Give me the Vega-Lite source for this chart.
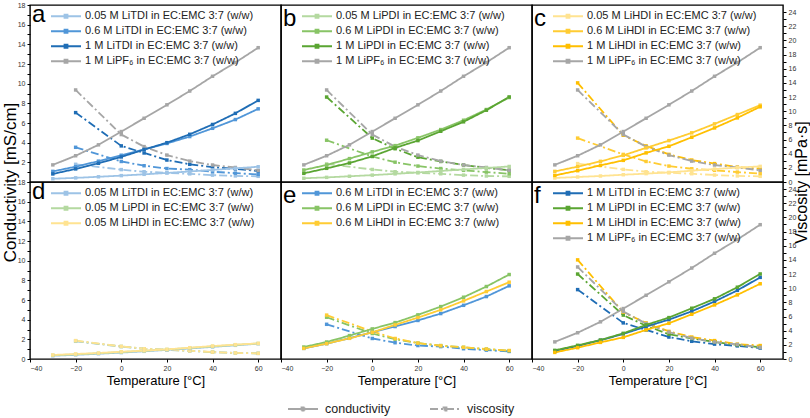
{
"$schema": "https://vega.github.io/schema/vega-lite/v6.json",
"padding": {"left": 0, "top": 0, "right": 0, "bottom": 0},
"background": "white",
"config": {
  "font": "'Liberation Sans', Arial, sans-serif",
  "view": {"stroke": "#000", "strokeWidth": 1.4},
  "axis": {"labelFont": "'Liberation Sans', sans-serif", "labelFontSize": 7, "labelColor": "#333", "tickColor": "#000", "tickSize": 3, "domain": false, "grid": false, "titleFont": "'Liberation Sans', sans-serif", "titleFontSize": 13, "titleFontWeight": "normal", "titleColor": "#000", "labelOverlap": false},
  "legend": {"labelFont": "'Liberation Sans', sans-serif", "labelFontSize": 11, "labelColor": "#222", "labelLimit": 400},
  "title": {"anchor": "start", "frame": "group", "orient": "top", "offset": -26, "fontSize": 24, "fontWeight": "normal", "font": "'Liberation Sans', sans-serif", "color": "#000", "dx": 2}
},
"datasets": {
"cond": [
{"s":"0.05 M LiTDI in EC:EMC 3:7 (w/w)","t":-30,"v":0.33},{"s":"0.05 M LiTDI in EC:EMC 3:7 (w/w)","t":-20,"v":0.42},{"s":"0.05 M LiTDI in EC:EMC 3:7 (w/w)","t":-10,"v":0.53},{"s":"0.05 M LiTDI in EC:EMC 3:7 (w/w)","t":0,"v":0.65},{"s":"0.05 M LiTDI in EC:EMC 3:7 (w/w)","t":10,"v":0.78},{"s":"0.05 M LiTDI in EC:EMC 3:7 (w/w)","t":20,"v":0.92},{"s":"0.05 M LiTDI in EC:EMC 3:7 (w/w)","t":30,"v":1.07},{"s":"0.05 M LiTDI in EC:EMC 3:7 (w/w)","t":40,"v":1.23},{"s":"0.05 M LiTDI in EC:EMC 3:7 (w/w)","t":50,"v":1.39},{"s":"0.05 M LiTDI in EC:EMC 3:7 (w/w)","t":60,"v":1.55},
{"s":"0.05 M LiPDI in EC:EMC 3:7 (w/w)","t":-30,"v":0.38},{"s":"0.05 M LiPDI in EC:EMC 3:7 (w/w)","t":-20,"v":0.47},{"s":"0.05 M LiPDI in EC:EMC 3:7 (w/w)","t":-10,"v":0.58},{"s":"0.05 M LiPDI in EC:EMC 3:7 (w/w)","t":0,"v":0.70},{"s":"0.05 M LiPDI in EC:EMC 3:7 (w/w)","t":10,"v":0.83},{"s":"0.05 M LiPDI in EC:EMC 3:7 (w/w)","t":20,"v":0.97},{"s":"0.05 M LiPDI in EC:EMC 3:7 (w/w)","t":30,"v":1.12},{"s":"0.05 M LiPDI in EC:EMC 3:7 (w/w)","t":40,"v":1.28},{"s":"0.05 M LiPDI in EC:EMC 3:7 (w/w)","t":50,"v":1.43},{"s":"0.05 M LiPDI in EC:EMC 3:7 (w/w)","t":60,"v":1.58},
{"s":"0.05 M LiHDI in EC:EMC 3:7 (w/w)","t":-30,"v":0.41},{"s":"0.05 M LiHDI in EC:EMC 3:7 (w/w)","t":-20,"v":0.51},{"s":"0.05 M LiHDI in EC:EMC 3:7 (w/w)","t":-10,"v":0.61},{"s":"0.05 M LiHDI in EC:EMC 3:7 (w/w)","t":0,"v":0.74},{"s":"0.05 M LiHDI in EC:EMC 3:7 (w/w)","t":10,"v":0.85},{"s":"0.05 M LiHDI in EC:EMC 3:7 (w/w)","t":20,"v":0.98},{"s":"0.05 M LiHDI in EC:EMC 3:7 (w/w)","t":30,"v":1.15},{"s":"0.05 M LiHDI in EC:EMC 3:7 (w/w)","t":40,"v":1.32},{"s":"0.05 M LiHDI in EC:EMC 3:7 (w/w)","t":50,"v":1.46},{"s":"0.05 M LiHDI in EC:EMC 3:7 (w/w)","t":60,"v":1.59},
{"s":"0.6 M LiTDI in EC:EMC 3:7 (w/w)","t":-30,"v":1.08},{"s":"0.6 M LiTDI in EC:EMC 3:7 (w/w)","t":-20,"v":1.56},{"s":"0.6 M LiTDI in EC:EMC 3:7 (w/w)","t":-10,"v":2.12},{"s":"0.6 M LiTDI in EC:EMC 3:7 (w/w)","t":0,"v":2.72},{"s":"0.6 M LiTDI in EC:EMC 3:7 (w/w)","t":10,"v":3.3},{"s":"0.6 M LiTDI in EC:EMC 3:7 (w/w)","t":20,"v":3.92},{"s":"0.6 M LiTDI in EC:EMC 3:7 (w/w)","t":30,"v":4.62},{"s":"0.6 M LiTDI in EC:EMC 3:7 (w/w)","t":40,"v":5.46},{"s":"0.6 M LiTDI in EC:EMC 3:7 (w/w)","t":50,"v":6.35},{"s":"0.6 M LiTDI in EC:EMC 3:7 (w/w)","t":60,"v":7.44},
{"s":"0.6 M LiPDI in EC:EMC 3:7 (w/w)","t":-30,"v":1.22},{"s":"0.6 M LiPDI in EC:EMC 3:7 (w/w)","t":-20,"v":1.73},{"s":"0.6 M LiPDI in EC:EMC 3:7 (w/w)","t":-10,"v":2.38},{"s":"0.6 M LiPDI in EC:EMC 3:7 (w/w)","t":0,"v":3.06},{"s":"0.6 M LiPDI in EC:EMC 3:7 (w/w)","t":10,"v":3.7},{"s":"0.6 M LiPDI in EC:EMC 3:7 (w/w)","t":20,"v":4.49},{"s":"0.6 M LiPDI in EC:EMC 3:7 (w/w)","t":30,"v":5.33},{"s":"0.6 M LiPDI in EC:EMC 3:7 (w/w)","t":40,"v":6.28},{"s":"0.6 M LiPDI in EC:EMC 3:7 (w/w)","t":50,"v":7.37},{"s":"0.6 M LiPDI in EC:EMC 3:7 (w/w)","t":60,"v":8.59},
{"s":"0.6 M LiHDI in EC:EMC 3:7 (w/w)","t":-30,"v":1.08},{"s":"0.6 M LiHDI in EC:EMC 3:7 (w/w)","t":-20,"v":1.56},{"s":"0.6 M LiHDI in EC:EMC 3:7 (w/w)","t":-10,"v":2.1},{"s":"0.6 M LiHDI in EC:EMC 3:7 (w/w)","t":0,"v":2.71},{"s":"0.6 M LiHDI in EC:EMC 3:7 (w/w)","t":10,"v":3.47},{"s":"0.6 M LiHDI in EC:EMC 3:7 (w/w)","t":20,"v":4.21},{"s":"0.6 M LiHDI in EC:EMC 3:7 (w/w)","t":30,"v":5.0},{"s":"0.6 M LiHDI in EC:EMC 3:7 (w/w)","t":40,"v":5.91},{"s":"0.6 M LiHDI in EC:EMC 3:7 (w/w)","t":50,"v":6.86},{"s":"0.6 M LiHDI in EC:EMC 3:7 (w/w)","t":60,"v":7.81},
{"s":"1 M LiTDI in EC:EMC 3:7 (w/w)","t":-30,"v":0.82},{"s":"1 M LiTDI in EC:EMC 3:7 (w/w)","t":-20,"v":1.33},{"s":"1 M LiTDI in EC:EMC 3:7 (w/w)","t":-10,"v":1.9},{"s":"1 M LiTDI in EC:EMC 3:7 (w/w)","t":0,"v":2.55},{"s":"1 M LiTDI in EC:EMC 3:7 (w/w)","t":10,"v":3.3},{"s":"1 M LiTDI in EC:EMC 3:7 (w/w)","t":20,"v":4.0},{"s":"1 M LiTDI in EC:EMC 3:7 (w/w)","t":30,"v":4.85},{"s":"1 M LiTDI in EC:EMC 3:7 (w/w)","t":40,"v":5.85},{"s":"1 M LiTDI in EC:EMC 3:7 (w/w)","t":50,"v":6.98},{"s":"1 M LiTDI in EC:EMC 3:7 (w/w)","t":60,"v":8.3},
{"s":"1 M LiPDI in EC:EMC 3:7 (w/w)","t":-30,"v":0.88},{"s":"1 M LiPDI in EC:EMC 3:7 (w/w)","t":-20,"v":1.39},{"s":"1 M LiPDI in EC:EMC 3:7 (w/w)","t":-10,"v":1.93},{"s":"1 M LiPDI in EC:EMC 3:7 (w/w)","t":0,"v":2.61},{"s":"1 M LiPDI in EC:EMC 3:7 (w/w)","t":10,"v":3.47},{"s":"1 M LiPDI in EC:EMC 3:7 (w/w)","t":20,"v":4.21},{"s":"1 M LiPDI in EC:EMC 3:7 (w/w)","t":30,"v":5.16},{"s":"1 M LiPDI in EC:EMC 3:7 (w/w)","t":40,"v":6.12},{"s":"1 M LiPDI in EC:EMC 3:7 (w/w)","t":50,"v":7.3},{"s":"1 M LiPDI in EC:EMC 3:7 (w/w)","t":60,"v":8.65},
{"s":"1 M LiHDI in EC:EMC 3:7 (w/w)","t":-30,"v":0.67},{"s":"1 M LiHDI in EC:EMC 3:7 (w/w)","t":-20,"v":1.15},{"s":"1 M LiHDI in EC:EMC 3:7 (w/w)","t":-10,"v":1.69},{"s":"1 M LiHDI in EC:EMC 3:7 (w/w)","t":0,"v":2.2},{"s":"1 M LiHDI in EC:EMC 3:7 (w/w)","t":10,"v":2.96},{"s":"1 M LiHDI in EC:EMC 3:7 (w/w)","t":20,"v":3.63},{"s":"1 M LiHDI in EC:EMC 3:7 (w/w)","t":30,"v":4.55},{"s":"1 M LiHDI in EC:EMC 3:7 (w/w)","t":40,"v":5.5},{"s":"1 M LiHDI in EC:EMC 3:7 (w/w)","t":50,"v":6.52},{"s":"1 M LiHDI in EC:EMC 3:7 (w/w)","t":60,"v":7.65},
{"s":"1 M LiPF₆ in EC:EMC 3:7 (w/w)","t":-30,"v":1.74},{"s":"1 M LiPF₆ in EC:EMC 3:7 (w/w)","t":-20,"v":2.67},{"s":"1 M LiPF₆ in EC:EMC 3:7 (w/w)","t":-10,"v":3.78},{"s":"1 M LiPF₆ in EC:EMC 3:7 (w/w)","t":0,"v":5.13},{"s":"1 M LiPF₆ in EC:EMC 3:7 (w/w)","t":10,"v":6.48},{"s":"1 M LiPF₆ in EC:EMC 3:7 (w/w)","t":20,"v":7.85},{"s":"1 M LiPF₆ in EC:EMC 3:7 (w/w)","t":30,"v":9.25},{"s":"1 M LiPF₆ in EC:EMC 3:7 (w/w)","t":40,"v":10.75},{"s":"1 M LiPF₆ in EC:EMC 3:7 (w/w)","t":50,"v":12.15},{"s":"1 M LiPF₆ in EC:EMC 3:7 (w/w)","t":60,"v":13.66}
],
"visc": [
{"s":"0.05 M LiTDI in EC:EMC 3:7 (w/w)","t":-20,"v":2.5},{"s":"0.05 M LiTDI in EC:EMC 3:7 (w/w)","t":0,"v":1.75},{"s":"0.05 M LiTDI in EC:EMC 3:7 (w/w)","t":10,"v":1.45},{"s":"0.05 M LiTDI in EC:EMC 3:7 (w/w)","t":20,"v":1.3},{"s":"0.05 M LiTDI in EC:EMC 3:7 (w/w)","t":30,"v":1.15},{"s":"0.05 M LiTDI in EC:EMC 3:7 (w/w)","t":40,"v":0.97},{"s":"0.05 M LiTDI in EC:EMC 3:7 (w/w)","t":50,"v":0.86},{"s":"0.05 M LiTDI in EC:EMC 3:7 (w/w)","t":60,"v":0.8},
{"s":"0.05 M LiPDI in EC:EMC 3:7 (w/w)","t":-20,"v":2.55},{"s":"0.05 M LiPDI in EC:EMC 3:7 (w/w)","t":0,"v":1.77},{"s":"0.05 M LiPDI in EC:EMC 3:7 (w/w)","t":10,"v":1.45},{"s":"0.05 M LiPDI in EC:EMC 3:7 (w/w)","t":20,"v":1.3},{"s":"0.05 M LiPDI in EC:EMC 3:7 (w/w)","t":30,"v":1.16},{"s":"0.05 M LiPDI in EC:EMC 3:7 (w/w)","t":40,"v":0.97},{"s":"0.05 M LiPDI in EC:EMC 3:7 (w/w)","t":50,"v":0.85},{"s":"0.05 M LiPDI in EC:EMC 3:7 (w/w)","t":60,"v":0.8},
{"s":"0.05 M LiHDI in EC:EMC 3:7 (w/w)","t":-20,"v":2.6},{"s":"0.05 M LiHDI in EC:EMC 3:7 (w/w)","t":0,"v":1.78},{"s":"0.05 M LiHDI in EC:EMC 3:7 (w/w)","t":10,"v":1.45},{"s":"0.05 M LiHDI in EC:EMC 3:7 (w/w)","t":20,"v":1.3},{"s":"0.05 M LiHDI in EC:EMC 3:7 (w/w)","t":30,"v":1.17},{"s":"0.05 M LiHDI in EC:EMC 3:7 (w/w)","t":40,"v":0.98},{"s":"0.05 M LiHDI in EC:EMC 3:7 (w/w)","t":50,"v":0.86},{"s":"0.05 M LiHDI in EC:EMC 3:7 (w/w)","t":60,"v":0.8},
{"s":"0.6 M LiTDI in EC:EMC 3:7 (w/w)","t":-20,"v":4.9},{"s":"0.6 M LiTDI in EC:EMC 3:7 (w/w)","t":0,"v":2.9},{"s":"0.6 M LiTDI in EC:EMC 3:7 (w/w)","t":10,"v":2.3},{"s":"0.6 M LiTDI in EC:EMC 3:7 (w/w)","t":20,"v":1.9},{"s":"0.6 M LiTDI in EC:EMC 3:7 (w/w)","t":30,"v":1.75},{"s":"0.6 M LiTDI in EC:EMC 3:7 (w/w)","t":40,"v":1.45},{"s":"0.6 M LiTDI in EC:EMC 3:7 (w/w)","t":50,"v":1.25},{"s":"0.6 M LiTDI in EC:EMC 3:7 (w/w)","t":60,"v":1.07},
{"s":"0.6 M LiPDI in EC:EMC 3:7 (w/w)","t":-20,"v":5.9},{"s":"0.6 M LiPDI in EC:EMC 3:7 (w/w)","t":0,"v":3.6},{"s":"0.6 M LiPDI in EC:EMC 3:7 (w/w)","t":10,"v":2.8},{"s":"0.6 M LiPDI in EC:EMC 3:7 (w/w)","t":20,"v":2.25},{"s":"0.6 M LiPDI in EC:EMC 3:7 (w/w)","t":30,"v":1.9},{"s":"0.6 M LiPDI in EC:EMC 3:7 (w/w)","t":40,"v":1.65},{"s":"0.6 M LiPDI in EC:EMC 3:7 (w/w)","t":50,"v":1.4},{"s":"0.6 M LiPDI in EC:EMC 3:7 (w/w)","t":60,"v":1.17},
{"s":"0.6 M LiHDI in EC:EMC 3:7 (w/w)","t":-20,"v":6.2},{"s":"0.6 M LiHDI in EC:EMC 3:7 (w/w)","t":0,"v":3.9},{"s":"0.6 M LiHDI in EC:EMC 3:7 (w/w)","t":10,"v":2.9},{"s":"0.6 M LiHDI in EC:EMC 3:7 (w/w)","t":20,"v":2.25},{"s":"0.6 M LiHDI in EC:EMC 3:7 (w/w)","t":30,"v":1.87},{"s":"0.6 M LiHDI in EC:EMC 3:7 (w/w)","t":40,"v":1.65},{"s":"0.6 M LiHDI in EC:EMC 3:7 (w/w)","t":50,"v":1.4},{"s":"0.6 M LiHDI in EC:EMC 3:7 (w/w)","t":60,"v":1.2},
{"s":"1 M LiTDI in EC:EMC 3:7 (w/w)","t":-20,"v":9.8},{"s":"1 M LiTDI in EC:EMC 3:7 (w/w)","t":0,"v":5.1},{"s":"1 M LiTDI in EC:EMC 3:7 (w/w)","t":10,"v":4.1},{"s":"1 M LiTDI in EC:EMC 3:7 (w/w)","t":20,"v":3.1},{"s":"1 M LiTDI in EC:EMC 3:7 (w/w)","t":30,"v":2.5},{"s":"1 M LiTDI in EC:EMC 3:7 (w/w)","t":40,"v":2.1},{"s":"1 M LiTDI in EC:EMC 3:7 (w/w)","t":50,"v":1.85},{"s":"1 M LiTDI in EC:EMC 3:7 (w/w)","t":60,"v":1.55},
{"s":"1 M LiPDI in EC:EMC 3:7 (w/w)","t":-20,"v":12.0},{"s":"1 M LiPDI in EC:EMC 3:7 (w/w)","t":0,"v":6.2},{"s":"1 M LiPDI in EC:EMC 3:7 (w/w)","t":10,"v":4.7},{"s":"1 M LiPDI in EC:EMC 3:7 (w/w)","t":20,"v":3.5},{"s":"1 M LiPDI in EC:EMC 3:7 (w/w)","t":30,"v":2.9},{"s":"1 M LiPDI in EC:EMC 3:7 (w/w)","t":40,"v":2.4},{"s":"1 M LiPDI in EC:EMC 3:7 (w/w)","t":50,"v":2.0},{"s":"1 M LiPDI in EC:EMC 3:7 (w/w)","t":60,"v":1.65},
{"s":"1 M LiHDI in EC:EMC 3:7 (w/w)","t":-20,"v":14.0},{"s":"1 M LiHDI in EC:EMC 3:7 (w/w)","t":0,"v":6.6},{"s":"1 M LiHDI in EC:EMC 3:7 (w/w)","t":10,"v":5.1},{"s":"1 M LiHDI in EC:EMC 3:7 (w/w)","t":20,"v":3.9},{"s":"1 M LiHDI in EC:EMC 3:7 (w/w)","t":30,"v":3.1},{"s":"1 M LiHDI in EC:EMC 3:7 (w/w)","t":40,"v":2.6},{"s":"1 M LiHDI in EC:EMC 3:7 (w/w)","t":50,"v":2.1},{"s":"1 M LiHDI in EC:EMC 3:7 (w/w)","t":60,"v":1.9},
{"s":"1 M LiPF₆ in EC:EMC 3:7 (w/w)","t":-20,"v":13.0},{"s":"1 M LiPF₆ in EC:EMC 3:7 (w/w)","t":0,"v":6.7},{"s":"1 M LiPF₆ in EC:EMC 3:7 (w/w)","t":10,"v":5.0},{"s":"1 M LiPF₆ in EC:EMC 3:7 (w/w)","t":20,"v":3.8},{"s":"1 M LiPF₆ in EC:EMC 3:7 (w/w)","t":30,"v":2.95},{"s":"1 M LiPF₆ in EC:EMC 3:7 (w/w)","t":40,"v":2.4},{"s":"1 M LiPF₆ in EC:EMC 3:7 (w/w)","t":50,"v":2.05},{"s":"1 M LiPF₆ in EC:EMC 3:7 (w/w)","t":60,"v":1.65}
]
},
"columns": 3,
"spacing": 0,
"bounds": "flush",
"resolve": {"scale": {"color": "independent", "strokeDash": "shared"}, "legend": {"color": "independent", "strokeDash": "shared"}},
"concat": [
 {"width": 251, "height": 177, "title": {"text": "a"},
  "resolve": {"scale": {"y": "independent"}},
  "layer": [
   {"data": {"name": "visc"}, "transform": [{"filter": {"field": "s", "oneOf": ["0.05 M LiTDI in EC:EMC 3:7 (w/w)","0.6 M LiTDI in EC:EMC 3:7 (w/w)","1 M LiTDI in EC:EMC 3:7 (w/w)","1 M LiPF₆ in EC:EMC 3:7 (w/w)"]}}],
    "mark": {"type": "line", "strokeWidth": 1.8, "point": {"shape": "square", "size": 12, "filled": true}},
    "encoding": {
     "x": {"field": "t", "type": "quantitative", "scale": {"domain": [-40, 70], "nice": false, "zero": false}, "axis": null},
     "y": {"field": "v", "type": "quantitative", "scale": {"domain": [0, 25], "nice": false}, "axis": null},
     "color": {"field": "s", "type": "nominal", "sort": null, "scale": {"domain": ["0.05 M LiTDI in EC:EMC 3:7 (w/w)","0.6 M LiTDI in EC:EMC 3:7 (w/w)","1 M LiTDI in EC:EMC 3:7 (w/w)","1 M LiPF₆ in EC:EMC 3:7 (w/w)"], "range": ["#9dc3e6","#5096d8","#1f6db5","#a6a6a6"]},
      "legend": {"orient": "none", "legendX": 20, "legendY": 4, "title": null, "symbolType": "M-1,0L1,0M-0.1,-0.1L0.1,-0.1L0.1,0.1L-0.1,0.1Z", "symbolSize": 900, "symbolStrokeWidth": 1.8, "clipHeight": 14.5, "labelOffset": 3, "padding": 0, "rowPadding": 0}},
     "strokeDash": {"datum": "viscosity", "scale": {"domain": ["conductivity", "viscosity"], "range": [[1, 0], [8, 3, 2, 3]]},
      "legend": {"orient": "none", "legendX": 257, "legendY": 397, "direction": "horizontal", "title": null, "symbolType": "M-1,0L1,0M-0.1,-0.1L0.1,-0.1L0.1,0.1L-0.1,0.1Z", "symbolSize": 900, "symbolStrokeWidth": 1.8, "symbolStrokeColor": "#a6a6a6", "symbolFillColor": "#a6a6a6", "clipHeight": 14, "labelOffset": 6, "columnPadding": 38, "padding": 0, "labelFontSize": 12.5,
       "encode": {"symbols": {"update": {"stroke": {"value": "#a6a6a6"}, "fill": {"value": "#a6a6a6"}, "strokeWidth": {"value": 1.8}, "opacity": {"value": 1}}}}}}
    }},
   {"data": {"name": "cond"}, "transform": [{"filter": {"field": "s", "oneOf": ["0.05 M LiTDI in EC:EMC 3:7 (w/w)","0.6 M LiTDI in EC:EMC 3:7 (w/w)","1 M LiTDI in EC:EMC 3:7 (w/w)","1 M LiPF₆ in EC:EMC 3:7 (w/w)"]}}],
    "mark": {"type": "line", "strokeWidth": 1.8, "point": {"shape": "square", "size": 12, "filled": true}},
    "encoding": {
     "x": {"field": "t", "type": "quantitative"},
     "y": {"field": "v", "type": "quantitative", "scale": {"domain": [0, 18], "nice": false},
      "axis": {"orient": "left", "values": [0,1,2,3,4,5,6,7,8,9,10,11,12,13,14,15,16,17,18], "labelExpr": "datum.value % 2 === 0 && datum.value > 0 ? datum.label : ''", "title": "Conductivity [mS/cm]", "titleFontSize": 17, "titleX": -20, "titleY": 177, "titleAngle": 270, "titleAlign": "center", "titleBaseline": "middle"}},
     "color": {"field": "s", "type": "nominal", "sort": null},
     "strokeDash": {"datum": "conductivity"}
    }}
  ]},
 {"width": 251, "height": 177, "title": {"text": "b"},
  "resolve": {"scale": {"y": "independent"}},
  "layer": [
   {"data": {"name": "visc"}, "transform": [{"filter": {"field": "s", "oneOf": ["0.05 M LiPDI in EC:EMC 3:7 (w/w)","0.6 M LiPDI in EC:EMC 3:7 (w/w)","1 M LiPDI in EC:EMC 3:7 (w/w)","1 M LiPF₆ in EC:EMC 3:7 (w/w)"]}}],
    "mark": {"type": "line", "strokeWidth": 1.8, "point": {"shape": "square", "size": 12, "filled": true}},
    "encoding": {
     "x": {"field": "t", "type": "quantitative", "scale": {"domain": [-40, 70], "nice": false, "zero": false}, "axis": null},
     "y": {"field": "v", "type": "quantitative", "scale": {"domain": [0, 25], "nice": false}, "axis": null},
     "color": {"field": "s", "type": "nominal", "sort": null, "scale": {"domain": ["0.05 M LiPDI in EC:EMC 3:7 (w/w)","0.6 M LiPDI in EC:EMC 3:7 (w/w)","1 M LiPDI in EC:EMC 3:7 (w/w)","1 M LiPF₆ in EC:EMC 3:7 (w/w)"], "range": ["#b4d9a0","#88c466","#5aa532","#a6a6a6"]},
      "legend": {"orient": "none", "legendX": 20, "legendY": 4, "title": null, "symbolType": "M-1,0L1,0M-0.1,-0.1L0.1,-0.1L0.1,0.1L-0.1,0.1Z", "symbolSize": 900, "symbolStrokeWidth": 1.8, "clipHeight": 14.5, "labelOffset": 3, "padding": 0, "rowPadding": 0}},
     "strokeDash": {"datum": "viscosity"}
    }},
   {"data": {"name": "cond"}, "transform": [{"filter": {"field": "s", "oneOf": ["0.05 M LiPDI in EC:EMC 3:7 (w/w)","0.6 M LiPDI in EC:EMC 3:7 (w/w)","1 M LiPDI in EC:EMC 3:7 (w/w)","1 M LiPF₆ in EC:EMC 3:7 (w/w)"]}}],
    "mark": {"type": "line", "strokeWidth": 1.8, "point": {"shape": "square", "size": 12, "filled": true}},
    "encoding": {
     "x": {"field": "t", "type": "quantitative"},
     "y": {"field": "v", "type": "quantitative", "scale": {"domain": [0, 18], "nice": false}, "axis": null},
     "color": {"field": "s", "type": "nominal", "sort": null},
     "strokeDash": {"datum": "conductivity"}
    }}
  ]},
 {"width": 251, "height": 177, "title": {"text": "c"},
  "resolve": {"scale": {"y": "independent"}},
  "layer": [
   {"data": {"name": "visc"}, "transform": [{"filter": {"field": "s", "oneOf": ["0.05 M LiHDI in EC:EMC 3:7 (w/w)","0.6 M LiHDI in EC:EMC 3:7 (w/w)","1 M LiHDI in EC:EMC 3:7 (w/w)","1 M LiPF₆ in EC:EMC 3:7 (w/w)"]}}],
    "mark": {"type": "line", "strokeWidth": 1.8, "point": {"shape": "square", "size": 12, "filled": true}},
    "encoding": {
     "x": {"field": "t", "type": "quantitative", "scale": {"domain": [-40, 70], "nice": false, "zero": false}, "axis": null},
     "y": {"field": "v", "type": "quantitative", "scale": {"domain": [0, 25], "nice": false},
      "axis": {"orient": "right", "values": [0,1,2,3,4,5,6,7,8,9,10,11,12,13,14,15,16,17,18,19,20,21,22,23,24], "labelExpr": "datum.value % 2 === 0 ? datum.label : ''", "title": "Viscosity [mPa·s]", "titleFontSize": 16, "titleX": 18, "titleY": 177, "titleAngle": 270, "titleAlign": "center", "titleBaseline": "middle"}},
     "color": {"field": "s", "type": "nominal", "sort": null, "scale": {"domain": ["0.05 M LiHDI in EC:EMC 3:7 (w/w)","0.6 M LiHDI in EC:EMC 3:7 (w/w)","1 M LiHDI in EC:EMC 3:7 (w/w)","1 M LiPF₆ in EC:EMC 3:7 (w/w)"], "range": ["#ffe391","#ffcc33","#ffbf00","#a6a6a6"]},
      "legend": {"orient": "none", "legendX": 20, "legendY": 4, "title": null, "symbolType": "M-1,0L1,0M-0.1,-0.1L0.1,-0.1L0.1,0.1L-0.1,0.1Z", "symbolSize": 900, "symbolStrokeWidth": 1.8, "clipHeight": 14.5, "labelOffset": 3, "padding": 0, "rowPadding": 0}},
     "strokeDash": {"datum": "viscosity"}
    }},
   {"data": {"name": "cond"}, "transform": [{"filter": {"field": "s", "oneOf": ["0.05 M LiHDI in EC:EMC 3:7 (w/w)","0.6 M LiHDI in EC:EMC 3:7 (w/w)","1 M LiHDI in EC:EMC 3:7 (w/w)","1 M LiPF₆ in EC:EMC 3:7 (w/w)"]}}],
    "mark": {"type": "line", "strokeWidth": 1.8, "point": {"shape": "square", "size": 12, "filled": true}},
    "encoding": {
     "x": {"field": "t", "type": "quantitative"},
     "y": {"field": "v", "type": "quantitative", "scale": {"domain": [0, 18], "nice": false}, "axis": null},
     "color": {"field": "s", "type": "nominal", "sort": null},
     "strokeDash": {"datum": "conductivity"}
    }}
  ]},
 {"width": 251, "height": 177, "title": {"text": "d"},
  "resolve": {"scale": {"y": "independent"}},
  "layer": [
   {"data": {"name": "visc"}, "transform": [{"filter": {"field": "s", "oneOf": ["0.05 M LiTDI in EC:EMC 3:7 (w/w)","0.05 M LiPDI in EC:EMC 3:7 (w/w)","0.05 M LiHDI in EC:EMC 3:7 (w/w)"]}}],
    "mark": {"type": "line", "strokeWidth": 1.8, "point": {"shape": "square", "size": 12, "filled": true}},
    "encoding": {
     "x": {"field": "t", "type": "quantitative", "scale": {"domain": [-40, 70], "nice": false, "zero": false},
      "axis": {"values": [-40,-30,-20,-10,0,10,20,30,40,50,60], "labelExpr": "datum.value % 20 === 0 ? datum.label : ''", "title": "Temperature [°C]", "titlePadding": 3, "labelPadding": 2}},
     "y": {"field": "v", "type": "quantitative", "scale": {"domain": [0, 25], "nice": false}, "axis": null},
     "color": {"field": "s", "type": "nominal", "sort": null, "scale": {"domain": ["0.05 M LiTDI in EC:EMC 3:7 (w/w)","0.05 M LiPDI in EC:EMC 3:7 (w/w)","0.05 M LiHDI in EC:EMC 3:7 (w/w)"], "range": ["#9dc3e6","#b4d9a0","#ffe391"]},
      "legend": {"orient": "none", "legendX": 20, "legendY": 4, "title": null, "symbolType": "M-1,0L1,0M-0.1,-0.1L0.1,-0.1L0.1,0.1L-0.1,0.1Z", "symbolSize": 900, "symbolStrokeWidth": 1.8, "clipHeight": 14.5, "labelOffset": 3, "padding": 0, "rowPadding": 0}},
     "strokeDash": {"datum": "viscosity"}
    }},
   {"data": {"name": "cond"}, "transform": [{"filter": {"field": "s", "oneOf": ["0.05 M LiTDI in EC:EMC 3:7 (w/w)","0.05 M LiPDI in EC:EMC 3:7 (w/w)","0.05 M LiHDI in EC:EMC 3:7 (w/w)"]}}],
    "mark": {"type": "line", "strokeWidth": 1.8, "point": {"shape": "square", "size": 12, "filled": true}},
    "encoding": {
     "x": {"field": "t", "type": "quantitative"},
     "y": {"field": "v", "type": "quantitative", "scale": {"domain": [0, 18], "nice": false},
      "axis": {"orient": "left", "values": [0,1,2,3,4,5,6,7,8,9,10,11,12,13,14,15,16,17,18], "labelExpr": "datum.value % 2 === 0 ? datum.label : ''", "title": null}},
     "color": {"field": "s", "type": "nominal", "sort": null},
     "strokeDash": {"datum": "conductivity"}
    }}
  ]},
 {"width": 251, "height": 177, "title": {"text": "e"},
  "resolve": {"scale": {"y": "independent"}},
  "layer": [
   {"data": {"name": "visc"}, "transform": [{"filter": {"field": "s", "oneOf": ["0.6 M LiTDI in EC:EMC 3:7 (w/w)","0.6 M LiPDI in EC:EMC 3:7 (w/w)","0.6 M LiHDI in EC:EMC 3:7 (w/w)"]}}],
    "mark": {"type": "line", "strokeWidth": 1.8, "point": {"shape": "square", "size": 12, "filled": true}},
    "encoding": {
     "x": {"field": "t", "type": "quantitative", "scale": {"domain": [-40, 70], "nice": false, "zero": false},
      "axis": {"values": [-40,-30,-20,-10,0,10,20,30,40,50,60], "labelExpr": "datum.value % 20 === 0 ? datum.label : ''", "title": "Temperature [°C]", "titlePadding": 3, "labelPadding": 2}},
     "y": {"field": "v", "type": "quantitative", "scale": {"domain": [0, 25], "nice": false}, "axis": null},
     "color": {"field": "s", "type": "nominal", "sort": null, "scale": {"domain": ["0.6 M LiTDI in EC:EMC 3:7 (w/w)","0.6 M LiPDI in EC:EMC 3:7 (w/w)","0.6 M LiHDI in EC:EMC 3:7 (w/w)"], "range": ["#5096d8","#88c466","#ffcc33"]},
      "legend": {"orient": "none", "legendX": 20, "legendY": 4, "title": null, "symbolType": "M-1,0L1,0M-0.1,-0.1L0.1,-0.1L0.1,0.1L-0.1,0.1Z", "symbolSize": 900, "symbolStrokeWidth": 1.8, "clipHeight": 14.5, "labelOffset": 3, "padding": 0, "rowPadding": 0}},
     "strokeDash": {"datum": "viscosity"}
    }},
   {"data": {"name": "cond"}, "transform": [{"filter": {"field": "s", "oneOf": ["0.6 M LiTDI in EC:EMC 3:7 (w/w)","0.6 M LiPDI in EC:EMC 3:7 (w/w)","0.6 M LiHDI in EC:EMC 3:7 (w/w)"]}}],
    "mark": {"type": "line", "strokeWidth": 1.8, "point": {"shape": "square", "size": 12, "filled": true}},
    "encoding": {
     "x": {"field": "t", "type": "quantitative"},
     "y": {"field": "v", "type": "quantitative", "scale": {"domain": [0, 18], "nice": false}, "axis": null},
     "color": {"field": "s", "type": "nominal", "sort": null},
     "strokeDash": {"datum": "conductivity"}
    }}
  ]},
 {"width": 251, "height": 177, "title": {"text": "f"},
  "resolve": {"scale": {"y": "independent"}},
  "layer": [
   {"data": {"name": "visc"}, "transform": [{"filter": {"field": "s", "oneOf": ["1 M LiTDI in EC:EMC 3:7 (w/w)","1 M LiPDI in EC:EMC 3:7 (w/w)","1 M LiHDI in EC:EMC 3:7 (w/w)","1 M LiPF₆ in EC:EMC 3:7 (w/w)"]}}],
    "mark": {"type": "line", "strokeWidth": 1.8, "point": {"shape": "square", "size": 12, "filled": true}},
    "encoding": {
     "x": {"field": "t", "type": "quantitative", "scale": {"domain": [-40, 70], "nice": false, "zero": false},
      "axis": {"values": [-40,-30,-20,-10,0,10,20,30,40,50,60], "labelExpr": "datum.value % 20 === 0 ? datum.label : ''", "title": "Temperature [°C]", "titlePadding": 3, "labelPadding": 2}},
     "y": {"field": "v", "type": "quantitative", "scale": {"domain": [0, 25], "nice": false},
      "axis": {"orient": "right", "values": [0,1,2,3,4,5,6,7,8,9,10,11,12,13,14,15,16,17,18,19,20,21,22,23,24], "labelExpr": "datum.value % 2 === 0 ? datum.label : ''", "title": null}},
     "color": {"field": "s", "type": "nominal", "sort": null, "scale": {"domain": ["1 M LiTDI in EC:EMC 3:7 (w/w)","1 M LiPDI in EC:EMC 3:7 (w/w)","1 M LiHDI in EC:EMC 3:7 (w/w)","1 M LiPF₆ in EC:EMC 3:7 (w/w)"], "range": ["#1f6db5","#5aa532","#ffbf00","#a6a6a6"]},
      "legend": {"orient": "none", "legendX": 20, "legendY": 4, "title": null, "symbolType": "M-1,0L1,0M-0.1,-0.1L0.1,-0.1L0.1,0.1L-0.1,0.1Z", "symbolSize": 900, "symbolStrokeWidth": 1.8, "clipHeight": 14.5, "labelOffset": 3, "padding": 0, "rowPadding": 0}},
     "strokeDash": {"datum": "viscosity"}
    }},
   {"data": {"name": "cond"}, "transform": [{"filter": {"field": "s", "oneOf": ["1 M LiTDI in EC:EMC 3:7 (w/w)","1 M LiPDI in EC:EMC 3:7 (w/w)","1 M LiHDI in EC:EMC 3:7 (w/w)","1 M LiPF₆ in EC:EMC 3:7 (w/w)"]}}],
    "mark": {"type": "line", "strokeWidth": 1.8, "point": {"shape": "square", "size": 12, "filled": true}},
    "encoding": {
     "x": {"field": "t", "type": "quantitative"},
     "y": {"field": "v", "type": "quantitative", "scale": {"domain": [0, 18], "nice": false}, "axis": null},
     "color": {"field": "s", "type": "nominal", "sort": null},
     "strokeDash": {"datum": "conductivity"}
    }}
  ]}
]
}
